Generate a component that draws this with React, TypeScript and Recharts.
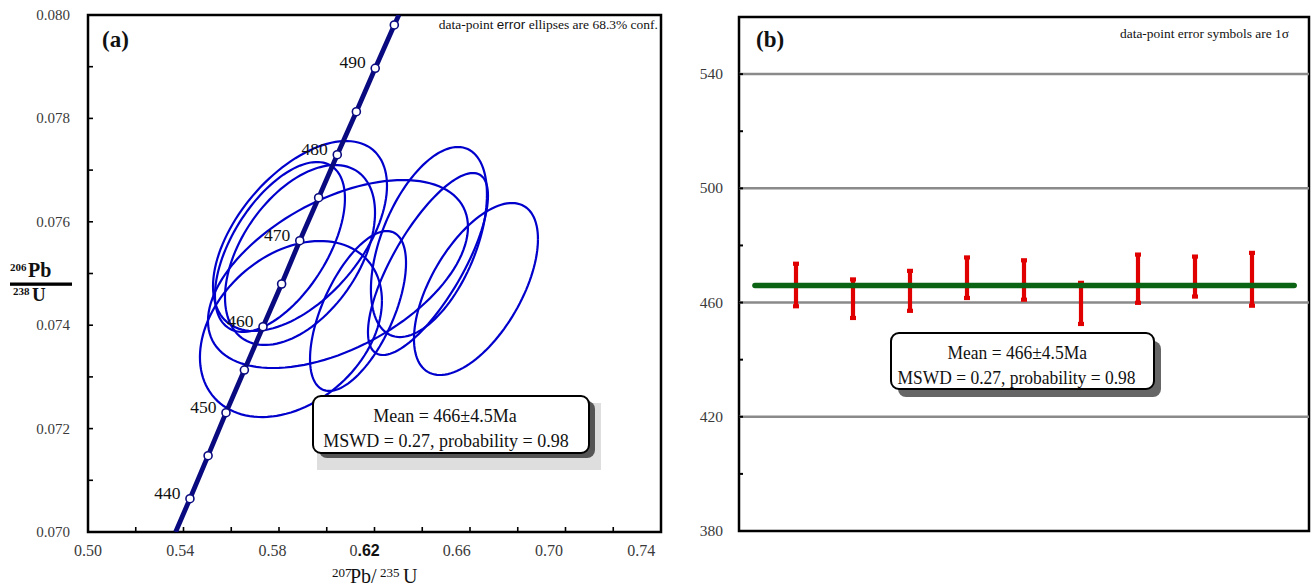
import React from 'react';
import { ComposedChart, Scatter, XAxis, YAxis, ReferenceArea, ReferenceLine, ErrorBar } from 'recharts';

const SERIF = '"Liberation Serif", "Times New Roman", serif';
const SANS = '"Liberation Sans", Arial, sans-serif';

// ---------- Panel (a): concordia diagram ----------
const concordiaAges = [440, 445, 450, 455, 460, 465, 470, 475, 480, 485, 490, 495];
const concordiaPb207U235 = [0.5427, 0.5503, 0.5578, 0.5655, 0.5733, 0.5811, 0.5887, 0.5966, 0.6044, 0.6124, 0.6203, 0.6283];
const concordiaPb206U238 = [0.070644, 0.071476, 0.072308, 0.073133, 0.073971, 0.074797, 0.075634, 0.076466, 0.077298, 0.07813, 0.078969, 0.079807];
const concordiaStart = { x: 0.5367, y: 0.07 };
const concordiaEnd = { x: 0.6302, y: 0.08 };
const labelledAges = [440, 450, 460, 470, 480, 490];

// analyses: 207Pb/235U, 1s, 206Pb/238U, 1s, error correlation
const ellX = [0.5888, 0.5804, 0.6428, 0.6424, 0.6625, 0.6047, 0.6131, 0.585, 0.5888];
const ellSX = [0.02405, 0.01797, 0.01604, 0.01659, 0.01714, 0.03594, 0.01327, 0.02516, 0.02074];
const ellY = [0.075725, 0.075513, 0.075609, 0.075184, 0.0747, 0.07499, 0.074275, 0.073926, 0.075358];
const ellSY = [0.001213, 0.001085, 0.001213, 0.001162, 0.001098, 0.0012, 0.001021, 0.001124, 0.001149];
const ellRho = [0.53, 0.57, 0.5, 0.75, 0.58, 0.5, 0.6, 0.32, 0.47];
const CONF68_2D = 1.515; // sqrt(chi2, 2 dof, 68.3%)

const xTicksA = [0.5, 0.52, 0.54, 0.56, 0.58, 0.6, 0.62, 0.64, 0.66, 0.68, 0.7, 0.72, 0.74];
const xTickLabelsA = ['0.50', '0.54', '0.58', '0.62', '0.66', '0.70', '0.74'];
const yTicksA = [0.07, 0.071, 0.072, 0.073, 0.074, 0.075, 0.076, 0.077, 0.078, 0.079, 0.08];
const yTickLabelsA = ['0.070', '0.072', '0.074', '0.076', '0.078', '0.080'];

// ---------- Panel (b): weighted mean ----------
const analysisNo = [1, 2, 3, 4, 5, 6, 7, 8, 9];
const agesMa = [466.15, 461.35, 464.1, 468.7, 467.9, 459.7, 468.35, 469.1, 468.15];
const ages1s = [7.45, 6.75, 7.0, 7.1, 6.9, 7.2, 8.45, 7.0, 9.25];
const meanAge = 466;
const meanLineSpan = [0.28, 9.74];
const yTicksB = [380, 400, 420, 440, 460, 480, 500, 520, 540, 560];
const yTickLabelsB = ['380', '420', '460', '500', '540'];
const gridB = [420, 460, 500, 540];

const meanText = 'Mean = 466±4.5Ma';
const mswdText = 'MSWD = 0.27, probability = 0.98';

// ---------- derived tables ----------
const concordiaLine = [
  concordiaStart,
  ...concordiaAges.map((_, i) => ({ x: concordiaPb207U235[i], y: concordiaPb206U238[i] })),
  concordiaEnd,
];
const concordiaMarks = concordiaAges.map((a, i) => ({
  x: concordiaPb207U235[i],
  y: concordiaPb206U238[i],
  label: labelledAges.includes(a) ? String(a) : '',
}));

function ellipse(i: number) {
  const pts: { x: number; y: number }[] = [];
  const r = ellRho[i];
  const s = Math.sqrt(1 - r * r);
  const n = 120;
  for (let k = 0; k <= n; k++) {
    const t = (2 * Math.PI * k) / n;
    pts.push({
      x: ellX[i] + CONF68_2D * ellSX[i] * Math.cos(t),
      y: ellY[i] + CONF68_2D * ellSY[i] * (r * Math.cos(t) + s * Math.sin(t)),
    });
  }
  return pts;
}
const ellipses = ellX.map((_, i) => ellipse(i));

const weightedData = analysisNo.map((n, i) => ({ x: n, y: agesMa[i], err: ages1s[i] }));
const meanLine = [
  { x: meanLineSpan[0], y: meanAge },
  { x: meanLineSpan[1], y: meanAge },
];

const Empty = () => <g />;

const XTickA = (props: any) => {
  const { x, y, payload } = props;
  const v = payload.value;
  const idx = xTickLabelsA.findIndex((l) => Math.abs(parseFloat(l) - v) < 1e-9);
  const label = idx >= 0 ? xTickLabelsA[idx] : null;
  return (
    <g>
      <line x1={x} y1={y} x2={x} y2={y - 5} stroke="#000" strokeWidth={1.6} />
      {label && (
        <text x={x - ((v - 0.5) / 0.04) * 3.3} y={y + 24} textAnchor="middle" fontFamily={SERIF} fontSize={16} fill="#3a3a3a">
          {label === '0.62' ? (
            <>
              <tspan>0</tspan>
              <tspan fontFamily={SANS} fontWeight="bold" fill="#111">.62</tspan>
            </>
          ) : (
            label
          )}
        </text>
      )}
    </g>
  );
};

const YTickA = (props: any) => {
  const { x, y, payload } = props;
  const v = payload.value;
  const label = yTickLabelsA.find((l) => Math.abs(parseFloat(l) - v) < 1e-9);
  return (
    <g>
      <line x1={x} y1={y} x2={x + 5} y2={y} stroke="#000" strokeWidth={1.6} />
      {label && (
        <text x={x - 18} y={y + 5} textAnchor="end" fontFamily={SERIF} fontSize={15} fill="#3a3a3a">
          {label}
        </text>
      )}
    </g>
  );
};

const YTickB = (props: any) => {
  const { x, y, payload } = props;
  const v = payload.value;
  const label = yTickLabelsB.find((l) => parseFloat(l) === v);
  return (
    <g>
      {v < 560 && <line x1={x} y1={y} x2={x + 4} y2={y} stroke="#000" strokeWidth={2} />}
      {label && (
        <text x={x - 16} y={y + 5} textAnchor="end" fontFamily={SERIF} fontSize={15.5} fill="#3a3a3a">
          {label}
        </text>
      )}
    </g>
  );
};

const ConcordiaMark = (props: any) => {
  const { cx, cy, payload } = props;
  return (
    <g>
      <circle cx={cx} cy={cy} r={4} fill="#fff" stroke="#0a0a80" strokeWidth={1.6} />
      {payload.label && (
        <text x={cx - 9.5} y={cy} textAnchor="end" fontFamily={SERIF} fontSize={17.5} fill="#111">
          {payload.label}
        </text>
      )}
    </g>
  );
};

function PanelA() {
  return (
    <ComposedChart width={680} height={586} margin={{ top: 15, right: 19, bottom: 0, left: 0 }}>
      <XAxis
        type="number"
        dataKey="x"
        domain={[0.5, 0.74]}
        ticks={xTicksA}
        interval={0}
        allowDataOverflow
        height={54}
        axisLine={false}
        tickLine={false}
        tickSize={0}
        tickMargin={0}
        tick={<XTickA />}
      />
      <YAxis
        type="number"
        dataKey="y"
        domain={[0.07, 0.08]}
        ticks={yTicksA}
        interval={0}
        allowDataOverflow
        width={88}
        axisLine={false}
        tickLine={false}
        tickSize={0}
        tickMargin={0}
        tick={<YTickA />}
      />
      {ellipses.map((pts, i) => (
        <Scatter
          key={'e' + i}
          data={pts}
          isAnimationActive={false}
          shape={<Empty />}
          line={{ stroke: '#0000cc', strokeWidth: 2.2, fill: 'none' }}
          lineType="joint"
        />
      ))}
      <Scatter
        data={concordiaLine}
        isAnimationActive={false}
        shape={<Empty />}
        line={{ stroke: '#0a0a80', strokeWidth: 4.8, fill: 'none' }}
        lineType="joint"
      />
      <Scatter data={concordiaMarks} isAnimationActive={false} shape={<ConcordiaMark />} />
      <ReferenceArea x1={0.5} x2={0.74} y1={0.07} y2={0.08} fill="none" fillOpacity={0} stroke="#000" strokeWidth={2.5} ifOverflow="visible" />
    </ComposedChart>
  );
}

function PanelB() {
  return (
    <ComposedChart width={653} height={586} margin={{ top: 17, right: 4, bottom: 55, left: 0 }}>
      <XAxis type="number" dataKey="x" domain={[0, 10]} hide allowDataOverflow />
      <YAxis
        type="number"
        dataKey="y"
        domain={[380, 560]}
        ticks={yTicksB}
        interval={0}
        allowDataOverflow
        width={79}
        axisLine={false}
        tickLine={false}
        tickSize={0}
        tickMargin={0}
        tick={<YTickB />}
      />
      {gridB.map((g) => (
        <ReferenceLine key={g} y={g} stroke="#8a8a8a" strokeWidth={2.5} />
      ))}
      <Scatter
        data={meanLine}
        isAnimationActive={false}
        shape={<Empty />}
        line={{ stroke: '#0b6414', strokeWidth: 5.5, strokeLinecap: 'round', fill: 'none' }}
        lineType="joint"
      />
      <Scatter data={weightedData} isAnimationActive={false} shape={<Empty />}>
        <ErrorBar dataKey="err" direction="y" width={3} stroke="#e00000" strokeWidth={4.2} isAnimationActive={false} />
      </Scatter>
      <ReferenceArea x1={0} x2={10} y1={380} y2={560} fill="none" fillOpacity={0} stroke="#000" strokeWidth={2.5} ifOverflow="visible" />
    </ComposedChart>
  );
}

function Overlay() {
  const t = { fontFamily: SERIF, fill: '#111' } as const;
  return (
    <svg width={1313} height={586} style={{ position: 'absolute', left: 0, top: 0, pointerEvents: 'none' }}>
      {/* panel a */}
      <text x={102} y={47} {...t} fontSize={23} fontWeight="bold">(a)</text>
      <text x={658} y={29} textAnchor="end" {...t} fontSize={13.5}>
        data-point <tspan fontFamily={SANS}>error</tspan> ellipses are 68.3% conf.
      </text>
      <text x={10} y={271} {...t} fontSize={11} fontWeight="bold">206</text>
      <text x={28} y={277} {...t} fontSize={20} fontWeight="bold">Pb</text>
      <rect x={10} y={282.5} width={62} height={3.3} fill="#000" />
      <text x={13} y={295} {...t} fontSize={11} fontWeight="bold">238</text>
      <text x={32} y={301} {...t} fontSize={19} fontWeight="bold">U</text>
      <text x={332} y={577} {...t} fontSize={13}>207</text>
      <text x={350} y={583} {...t} fontSize={20}>Pb/</text>
      <text x={380} y={577} {...t} fontSize={13}>235</text>
      <text x={403} y={583} {...t} fontSize={20}>U</text>

      <rect x={317} y={403} width={284} height={67} fill="#dedede" />
      <rect x={319} y={401} width={276} height={57} rx={8} fill="#555" />
      <rect x={313} y={396} width={276} height={57} rx={8} fill="#fff" stroke="#000" strokeWidth={2} />
      <text x={445} y={422} textAnchor="middle" {...t} fontSize={18}>{meanText}</text>
      <text x={446} y={447} textAnchor="middle" {...t} fontSize={18}>{mswdText}</text>

      {/* panel b */}
      <text x={756} y={47} {...t} fontSize={23} fontWeight="bold">(b)</text>
      <text x={1120} y={38} {...t} fontSize={13} textLength={169} lengthAdjust="spacingAndGlyphs">
        data-point error symbols are 1σ
      </text>
      <rect x={898} y={341} width={263} height={56} rx={8} fill="#666" />
      <rect x={891} y={333} width={263} height={56} rx={8} fill="#fff" stroke="#000" strokeWidth={2} />
      <text x={947.5} y={359} {...t} fontSize={18} textLength={139.5} lengthAdjust="spacingAndGlyphs">{meanText}</text>
      <text x={897.5} y={384} {...t} fontSize={18} textLength={238} lengthAdjust="spacingAndGlyphs">{mswdText}</text>
    </svg>
  );
}

export default function App() {
  return (
    <div style={{ position: 'absolute', left: 0, top: 0, width: 1313, height: 586, background: '#fff' }}>
      <div style={{ position: 'absolute', left: 0, top: 0 }}>
        <PanelA />
      </div>
      <div style={{ position: 'absolute', left: 660, top: 0 }}>
        <PanelB />
      </div>
      <Overlay />
    </div>
  );
}
